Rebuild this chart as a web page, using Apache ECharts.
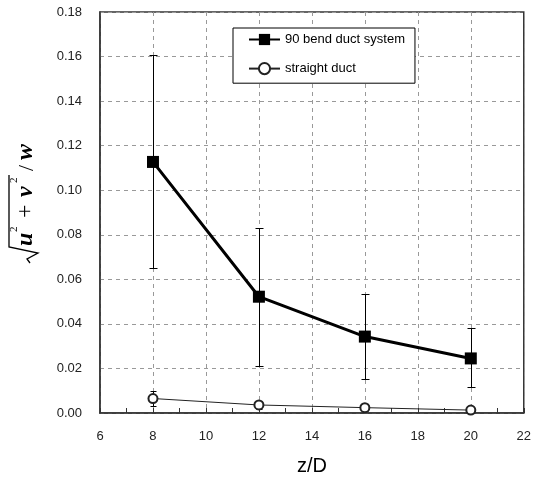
<!DOCTYPE html>
<html>
<head>
<meta charset="utf-8">
<script src="https://cdn.jsdelivr.net/npm/echarts@6/dist/echarts.min.js"></script>
<style>
  html, body { margin: 0; padding: 0; background: #fff; }
  #main { width: 534px; height: 482px; }
</style>
</head>
<body>
<div id="main"></div>
<script>
// data
var zD = [8, 12, 16, 20];
var bendMean = [0.1127, 0.0522, 0.0343, 0.0245];
var bendLow = [0.0652, 0.0210, 0.0152, 0.0115];
var bendHigh = [0.1605, 0.0832, 0.0533, 0.0380];
var straightMean = [0.0065, 0.0036, 0.0024, 0.0013];
var straightLow = [0.0032, 0.0016, 0.0007, 0.0002];
var straightHigh = [0.0098, 0.0053, 0.0036, 0.0026];
var seriesNames = ['90 bend duct system', 'straight duct'];

var font = '"Liberation Sans", Arial, sans-serif';

function pairs(xs, ys) {
    var out = [];
    for (var i = 0; i < xs.length; i++) out.push([xs[i], ys[i]]);
    return out;
}
function errRows(xs, lo, hi) {
    var out = [];
    for (var i = 0; i < xs.length; i++) out.push([xs[i], lo[i], hi[i]]);
    return out;
}
// vertical bar with caps, snapped to half pixels so it stays crisp
function errorBars(cap, width) {
    return function (params, api) {
        var x = api.value(0);
        var p1 = api.coord([x, api.value(1)]);
        var p2 = api.coord([x, api.value(2)]);
        var cx = Math.round(p1[0]) + 0.5;
        var y1 = Math.round(p1[1]) + 0.5, y2 = Math.round(p2[1]) + 0.5;
        var st = { stroke: '#000', lineWidth: width };
        return {
            type: 'group',
            children: [
                { type: 'line', shape: { x1: cx, y1: y1, x2: cx, y2: y2 }, style: st },
                { type: 'line', shape: { x1: cx - cap, y1: y1, x2: cx + cap, y2: y1 }, style: st },
                { type: 'line', shape: { x1: cx - cap, y1: y2, x2: cx + cap, y2: y2 }, style: st }
            ]
        };
    };
}

var myChart = echarts.init(document.getElementById('main'));
var it = 'bold italic 24px "Liberation Serif", "Times New Roman", serif';
var sup = '11px "Liberation Serif", serif';
var option = {
    animation: false,
    grid: {
        left: 100, right: 9, top: 12, bottom: 69,
        show: true, borderColor: '#333', borderWidth: 1.5
    },
    legend: {
        orient: 'vertical',
        left: 233, top: 28,
        padding: [5, 10, 8, 15],
        itemGap: 16,
        itemWidth: 31, itemHeight: 14,
        borderColor: '#000', borderWidth: 1,
        backgroundColor: '#fff',
        textStyle: { fontFamily: font, fontSize: 13, color: '#000' },
        data: seriesNames
    },
    xAxis: {
        type: 'value',
        min: 6, max: 22, interval: 2,
        name: 'z/D', nameLocation: 'middle', nameGap: 43,
        nameTextStyle: { fontFamily: font, fontSize: 20, color: '#000' },
        axisLine: { lineStyle: { color: '#333', width: 1.5 } },
        axisTick: { inside: true, length: 5, lineStyle: { color: '#333' } },
        minorTick: { show: true, splitNumber: 2, length: 5, lineStyle: { color: '#333' } },
        axisLabel: { fontFamily: font, fontSize: 13, color: '#222', margin: 17 },
        splitLine: { lineStyle: { color: '#999', type: [4, 4] } }
    },
    yAxis: {
        type: 'value',
        min: 0, max: 0.18, interval: 0.02,
        axisLine: { lineStyle: { color: '#333', width: 1.5 } },
        axisTick: { show: false },
        axisLabel: {
            fontFamily: font, fontSize: 13, color: '#222', margin: 18,
            formatter: function (v) { return v.toFixed(2); }
        },
        splitLine: { lineStyle: { color: '#999', type: [4, 4] } }
    },
    graphic: [{
        type: 'group',
        x: 34, y: 263,
        rotation: Math.PI / 2,
        children: [
            { type: 'polyline', shape: { points: [[0, -4], [4, -7], [10, 4], [16, -25], [88, -25]] },
              style: { stroke: '#000', lineWidth: 1.3, fill: null } },
            { type: 'text', x: 17, y: 4, style: { text: 'u', font: it, fill: '#000', textVerticalAlign: 'bottom' } },
            { type: 'text', x: 31, y: -14, style: { text: '2', font: sup, fill: '#000', textVerticalAlign: 'bottom' } },
            { type: 'text', x: 45, y: 4, style: { text: '+', font: '24px "Liberation Serif", serif', fill: '#000', textVerticalAlign: 'bottom' } },
            { type: 'text', x: 66, y: 4, style: { text: 'v', font: it, fill: '#000', textVerticalAlign: 'bottom' } },
            { type: 'text', x: 80, y: -14, style: { text: '2', font: sup, fill: '#000', textVerticalAlign: 'bottom' } },
            { type: 'text', x: 92, y: 4, style: { text: '/', font: '22px "Liberation Serif", serif', fill: '#000', textVerticalAlign: 'bottom' } },
            { type: 'text', x: 103, y: 4, style: { text: 'w', font: it, fill: '#000', textVerticalAlign: 'bottom' } }
        ]
    }],
    series: [
        {
            type: 'custom',
            renderItem: errorBars(4, 1),
            data: errRows(zD, bendLow, bendHigh),
            z: 3, silent: true
        },
        {
            type: 'custom',
            renderItem: errorBars(3, 1),
            data: errRows(zD, straightLow, straightHigh),
            z: 3, silent: true
        },
        {
            name: seriesNames[0],
            type: 'line',
            data: pairs(zD, bendMean),
            symbol: 'rect', symbolSize: 12,
            lineStyle: { color: '#000', width: 3 },
            itemStyle: { color: '#000', borderWidth: 0 },
            z: 4
        },
        {
            name: seriesNames[1],
            type: 'line',
            data: pairs(zD, straightMean),
            symbol: 'emptyCircle', symbolSize: 9,
            lineStyle: { color: '#222', width: 1 },
            itemStyle: { color: '#222', borderWidth: 1 },
            z: 4
        }
    ]
};
myChart.setOption(option);
</script>
</body>
</html>
